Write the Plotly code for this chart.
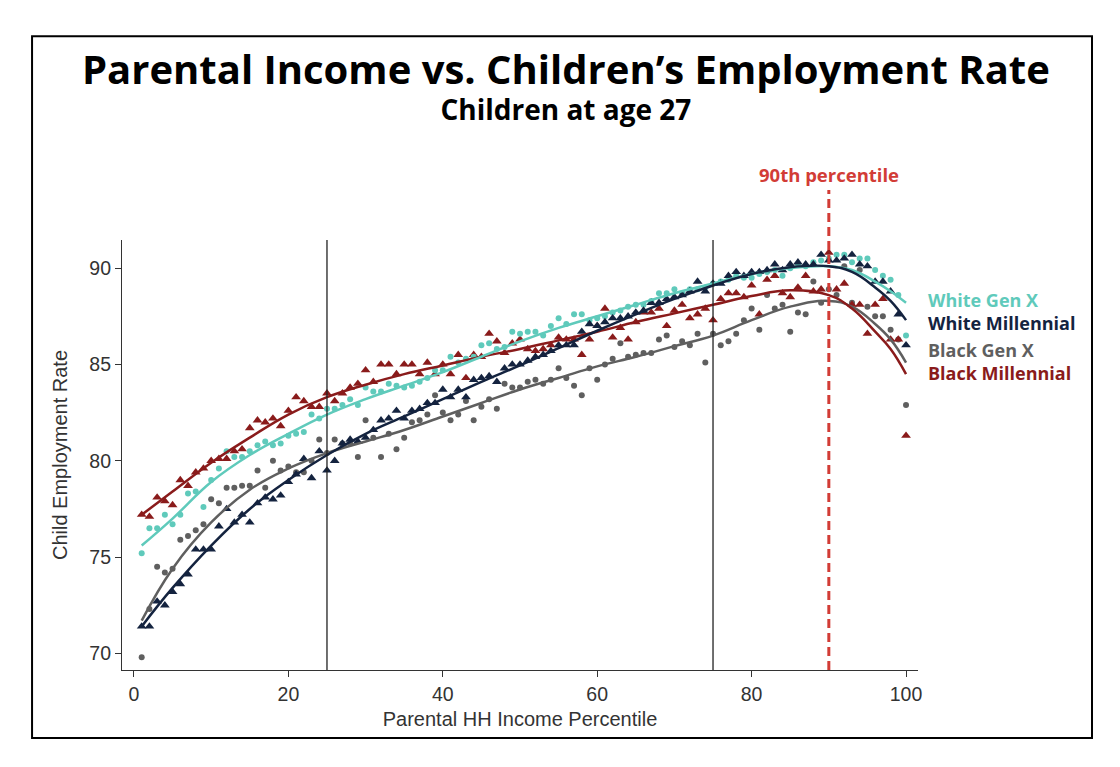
import plotly.graph_objects as go

percentile = list(range(1, 101))

white_genx = [75.2, 76.5, 76.5, 77.2, 76.7, 77.2, 78.3, 78.4, 77.6, 79.0,
              79.6, 80.5, 80.2, 80.2, 80.5, 80.8, 81.0, 80.8, 80.9, 81.3,
              81.4, 81.5, 82.4, 82.2, 82.7, 82.7, 82.9, 83.2, 82.9, 83.8,
              83.6, 83.6, 84.0, 83.9, 83.8, 83.9, 84.1, 84.3, 84.7, 84.7,
              85.4, 85.1, 85.3, 85.4, 86.0, 86.1, 85.8, 85.9, 86.7, 86.6,
              86.7, 86.7, 86.5, 87.0, 87.4, 87.1, 87.6, 87.6, 87.3, 87.4,
              87.5, 87.7, 87.8, 88.0, 88.1, 88.1, 88.3, 88.7, 88.7, 88.9,
              88.7, 88.9, 88.9, 89.0, 89.2, 89.3, 89.4, 89.6, 89.5, 89.5,
              89.7, 89.8, 89.9, 89.6, 90.0, 90.2, 90.1, 90.3, 90.4, 90.5,
              90.7, 90.7, 90.3, 90.5, 90.5, 89.9, 89.6, 89.4, 88.6, 86.5]

white_mill = [71.4, 71.4, 72.7, 72.5, 73.2, 73.6, 74.1, 75.4, 75.4, 75.4,
              76.6, 77.5, 76.8, 77.2, 76.8, 77.8, 78.1, 78.0, 78.2, 78.9,
              79.3, 80.1, 79.1, 80.5, 79.5, 80.0, 80.9, 81.1, 81.0, 81.2,
              81.6, 82.1, 82.2, 82.6, 82.2, 82.6, 82.7, 83.0, 83.0, 83.7,
              83.3, 83.7, 83.3, 84.2, 84.3, 84.4, 84.1, 84.8, 85.0, 85.0,
              85.2, 85.4, 85.5, 85.7, 86.0, 86.0, 86.0, 86.7, 87.1, 87.0,
              87.2, 87.4, 87.4, 87.5, 87.7, 87.8, 88.2, 88.2, 88.4, 88.5,
              88.6, 88.8, 89.3, 88.8, 89.2, 89.2, 89.6, 89.8, 89.6, 89.8,
              89.8, 89.9, 90.2, 89.9, 90.2, 90.3, 90.2, 90.2, 90.7, 90.4,
              90.4, 90.5, 90.7, 90.2, 90.1, 89.3, 89.3, 88.8, 87.6, 86.0]

black_genx = [69.8, 72.3, 74.5, 74.2, 74.4, 75.9, 76.1, 76.4, 76.7, 78.0,
              77.8, 78.6, 78.6, 78.7, 78.7, 79.5, 78.6, 80.0, 79.5, 79.7,
              79.4, 79.4, 80.0, 81.1, 80.4, 81.1, 80.9, 80.9, 80.2, 82.1,
              81.2, 80.2, 81.4, 80.6, 81.2, 82.0, 82.1, 82.4, 83.4, 82.5,
              82.1, 82.4, 83.1, 82.1, 82.8, 83.2, 82.7, 84.0, 83.8, 83.8,
              84.1, 84.2, 84.0, 84.2, 84.8, 84.3, 83.9, 83.4, 84.8, 84.2,
              85.0, 85.3, 86.1, 85.4, 85.5, 85.6, 85.6, 86.3, 86.5, 85.9,
              86.2, 86.0, 86.6, 85.1, 86.6, 86.0, 86.2, 86.6, 87.3, 87.9,
              86.8, 88.6, 87.9, 88.1, 86.7, 87.7, 87.6, 89.3, 88.2, 88.9,
              88.6, 90.1, 88.2, 89.9, 88.0, 87.5, 87.5, 86.8, 86.3, 82.9]

black_mill = [77.2, 77.1, 78.1, 77.9, 77.7, 79.0, 78.7, 79.4, 79.6, 80.0,
              80.1, 80.1, 80.5, 80.6, 81.7, 82.1, 82.0, 82.2, 81.8, 82.6,
              83.3, 83.1, 82.8, 82.8, 83.5, 83.1, 83.5, 83.8, 84.0, 84.7,
              84.1, 85.0, 85.0, 84.5, 85.0, 85.0, 84.5, 85.1, 84.5, 85.0,
              84.5, 85.5, 84.3, 85.5, 85.4, 86.6, 86.2, 85.6, 86.1, 86.3,
              85.8, 85.7, 85.8, 86.0, 86.4, 86.3, 86.3, 85.5, 86.3, 87.0,
              87.9, 86.4, 86.9, 86.3, 87.2, 87.7, 87.7, 87.9, 87.0, 87.8,
              88.1, 87.4, 87.6, 87.9, 87.3, 88.4, 88.7, 88.7, 88.5, 89.1,
              87.6, 89.4, 89.6, 88.7, 88.5, 89.0, 89.6, 88.8, 88.9, 90.8,
              88.9, 89.2, 88.1, 88.1, 86.6, 88.1, 88.4, 86.3, 86.3, 81.3]

# smoothed fit lines, read at a few percentiles
fit_x = [1, 5, 10, 15, 20, 25, 30, 35, 40, 45, 50, 55, 60, 65, 70, 75, 80, 85, 90, 93, 96, 98, 100]
fit_white_genx = [75.6, 77.0, 78.9, 80.3, 81.4, 82.4, 83.2, 83.9, 84.6, 85.4, 86.2, 86.9, 87.5,
                  88.1, 88.7, 89.2, 89.7, 90.0, 90.1, 89.9, 89.3, 88.8, 88.2]
fit_white_mill = [71.4, 73.4, 75.6, 77.5, 79.0, 80.3, 81.4, 82.3, 83.2, 84.1, 84.95, 85.85, 86.75,
                  87.6, 88.4, 89.1, 89.7, 90.05, 90.1, 89.8, 89.0, 88.3, 87.3]
fit_black_genx = [71.7, 74.4, 76.8, 78.5, 79.6, 80.4, 81.0, 81.6, 82.3, 83.0, 83.7, 84.3, 84.9,
                  85.4, 85.95, 86.5, 87.3, 88.0, 88.3, 88.0, 87.1, 86.3, 85.1]
fit_black_mill = [77.2, 78.4, 79.9, 81.2, 82.4, 83.3, 83.95, 84.5, 84.95, 85.4, 85.8, 86.25, 86.7,
                  87.2, 87.65, 88.1, 88.55, 88.85, 88.6, 87.9, 86.7, 85.8, 84.5]

TEAL = "#5fcabb"
NAVY = "#14233f"
GRAY = "#5f5f5f"
DRED = "#8a1b1b"
LINE_RED = "#d23c36"
HEAD_FONT = "Open Sans"

fig = go.Figure()

def add_series(y, color, symbol, size):
    fig.add_trace(go.Scatter(x=percentile, y=y, mode="markers",
                             marker=dict(color=color, symbol=symbol, size=size, line=dict(width=0)),
                             showlegend=False))

def add_fit(fit, color):
    fig.add_trace(go.Scatter(x=fit_x, y=fit, mode="lines",
                             line=dict(color=color, width=2.5, shape="spline", smoothing=1.2),
                             showlegend=False))

add_series(black_genx, GRAY, "circle", 6)
add_series(black_mill, DRED, "triangle-up", 8.5)
add_series(white_genx, TEAL, "circle", 6)
add_series(white_mill, NAVY, "triangle-up", 8.5)
add_fit(fit_black_genx, GRAY)
add_fit(fit_black_mill, DRED)
add_fit(fit_white_genx, TEAL)
add_fit(fit_white_mill, NAVY)

# quartile markers
for q in [25, 75]:
    fig.add_shape(type="line", x0=q, x1=q, y0=0, y1=1, xref="x", yref="paper",
                  line=dict(color="#222222", width=1.3))
# 90th percentile dashed line, reaching above the plot
fig.add_shape(type="line", x0=90, x1=90, y0=0, y1=1.116, xref="x", yref="paper",
              line=dict(color=LINE_RED, width=3, dash="9px,5px"))
fig.add_annotation(x=90, y=1.153, xref="x", yref="paper", text="<b>90th percentile</b>",
                   showarrow=False, xanchor="center", yanchor="middle",
                   font=dict(family=HEAD_FONT, size=18.5, color=LINE_RED, weight=800))

# outer frame
fig.add_shape(type="rect", xref="paper", yref="paper", x0=-0.113, x1=1.2186, y0=-0.158, y1=1.474,
              line=dict(color="black", width=2))

# title and subtitle in one text block (line gap follows the base font size)
fig.add_annotation(x=0.558, y=1.361, xref="paper", yref="paper",
                   text="<span style='font-size:40px'><b>Parental Income vs. Children’s Employment Rate</b></span>"
                        "<br><b>Children at age 27</b>",
                   showarrow=False, xanchor="center", yanchor="middle", align="center",
                   font=dict(family=HEAD_FONT, size=28, color="black", weight=800))

# labels on the right instead of a legend, two lines per block
def label_block(first, c1, second, c2, yy):
    fig.add_annotation(x=1.01, y=yy, xref="paper", yref="y",
                       text="<span style='color:%s'><b>%s</b></span><br><span style='color:%s'><b>%s</b></span>"
                            % (c1, first, c2, second),
                       showarrow=False, xanchor="left", yanchor="middle", align="left",
                       font=dict(family=HEAD_FONT, size=18, weight=800))

label_block("White Gen X", TEAL, "White Millennial", NAVY, 87.76)
label_block("Black Gen X", GRAY, "Black Millennial", DRED, 85.15)

# page has an 8px body margin, so the figure is 8px smaller and shifted
fig.update_layout(
    width=1112, height=759,
    margin=dict(l=114, r=202, t=232, b=97),
    paper_bgcolor="white", plot_bgcolor="white",
    xaxis=dict(range=[-1.55, 101.55], tickvals=[0, 20, 40, 60, 80, 100],
               showline=True, linecolor="#333333", linewidth=1.2, ticks="outside",
               ticklen=6, tickcolor="#333333", showgrid=False, zeroline=False,
               tickfont=dict(family="Liberation Sans", size=19.5, color="#333333"),
               title=dict(text="Parental HH Income Percentile", standoff=8,
                          font=dict(family="Liberation Sans", size=20, color="#333333"))),
    yaxis=dict(range=[69.14, 91.46], tickvals=[70, 75, 80, 85, 90],
               showline=True, linecolor="#333333", linewidth=1.2, ticks="outside",
               ticklen=6, tickcolor="#333333", showgrid=False, zeroline=False,
               tickfont=dict(family="Liberation Sans", size=19.5, color="#333333"),
               title=dict(text="Child Employment Rate", standoff=16,
                          font=dict(family="Liberation Sans", size=20, color="#333333"))),
)

fig.write_html("out.html")
